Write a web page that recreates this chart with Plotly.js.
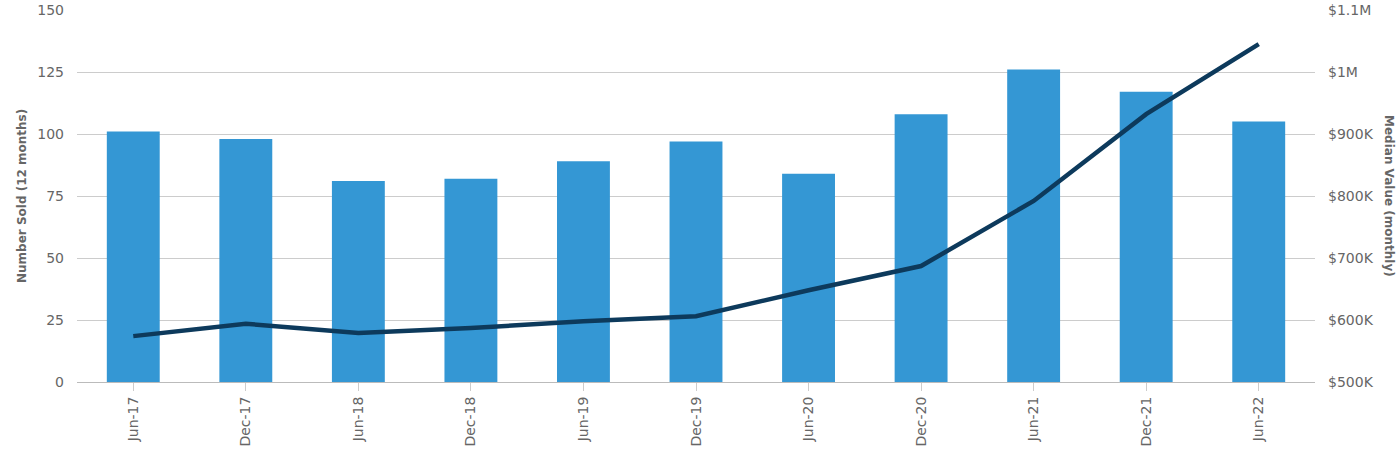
<!DOCTYPE html>
<html>
<head>
<meta charset="utf-8">
<script src="https://cdn.plot.ly/plotly-3.0.1.min.js"></script>
<style>html,body{margin:0;padding:0;background:#fff;}#chart{width:1400px;height:457px;}</style>
</head>
<body>
<div id="chart"></div>
<script>
const categories = ["Jun-17","Dec-17","Jun-18","Dec-18","Jun-19","Dec-19","Jun-20","Dec-20","Jun-21","Dec-21","Jun-22"];
const numberSold = [101, 98, 81, 82, 89, 97, 84, 108, 126, 117, 105];
const medianValue = [574000, 594000, 579000, 587000, 598000, 606000, 648000, 687000, 792000, 932000, 1045000];
const leftTicks = [0, 25, 50, 75, 100, 125, 150];
const rightTicks = [500000, 600000, 700000, 800000, 900000, 1000000, 1100000];
const rightTickLabels = ["$500K","$600K","$700K","$800K","$900K","$1M","$1.1M"];

const traces = [
  {type:'bar', x:categories, y:numberSold, name:'Number Sold', marker:{color:'#3497d4'}, yaxis:'y'},
  {type:'scatter', mode:'lines', x:categories, y:medianValue, name:'Median Value', yaxis:'y2', line:{color:'#0d3a5c', width:4.5}}
];
const layout = {
  width:1400, height:457,
  margin:{l:77, r:85, t:10, b:75},
  paper_bgcolor:'#fff', plot_bgcolor:'#fff',
  showlegend:false,
  bargap:0.53,
  font:{family:'DejaVu Sans, sans-serif', color:'#666'},
  xaxis:{type:'category', tickangle:-90, tickfont:{size:14, color:'#666'}, ticks:'outside', ticklen:8, tickcolor:'#ccc', showline:true, linecolor:'#bbb', showgrid:false},
  yaxis:{range:[0,150], tickvals:leftTicks, tickfont:{size:14, color:'#666'}, gridcolor:'#ccc', zeroline:false, ticks:'', ticklabelstandoff:12},
  yaxis2:{overlaying:'y', side:'right', range:[500000,1100000], tickvals:rightTicks, ticktext:rightTickLabels, tickfont:{size:14, color:'#666'}, showgrid:false, zeroline:false, ticklabelstandoff:12},
  annotations:[
    {text:'<b>Number Sold (12 months)</b>', xref:'paper', yref:'paper', x:(22-77)/1238, y:0.5, xanchor:'center', yanchor:'middle', textangle:-90, showarrow:false, font:{size:12, color:'#666'}},
    {text:'<b>Median Value (monthly)</b>', xref:'paper', yref:'paper', x:(1389-77)/1238, y:0.5, xanchor:'center', yanchor:'middle', textangle:90, showarrow:false, font:{size:12, color:'#666'}}
  ]
};
Plotly.newPlot('chart', traces, layout, {displayModeBar:false, staticPlot:true});
</script>
</body>
</html>
